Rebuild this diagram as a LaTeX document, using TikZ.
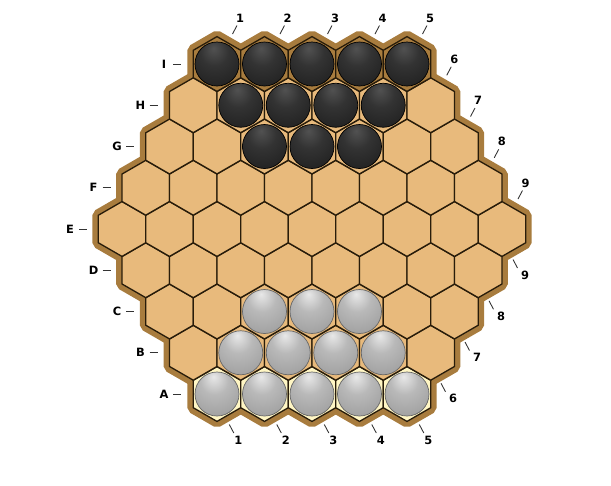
\documentclass[tikz,border=0pt]{standalone}
\usepackage{fontspec}
\setmainfont{DejaVu Sans}

\definecolor{boardtan}{RGB}{232,186,124}
\definecolor{boardrim}{RGB}{168,124,62}
\definecolor{rowAfill}{RGB}{255,246,196}
\definecolor{hexline}{RGB}{40,28,10}

\pgfdeclareradialshading{blackmarble}{\pgfpoint{-4bp}{18bp}}{color(0bp)=(black!68); color(16bp)=(black!80); color(40bp)=(black!88); color(70bp)=(black!93)}
\pgfdeclareradialshading{whitemarble}{\pgfpoint{-4bp}{20bp}}{color(0bp)=(gray!18); color(16bp)=(gray!55); color(38bp)=(gray!76); color(70bp)=(gray!95)}

\newcommand{\hexr}{27.42}
\newcommand{\hexcell}[3]{\filldraw[#1] (#2,#3) +(90:\hexr) -- +(30:\hexr) -- +(-30:\hexr) -- +(-90:\hexr) -- +(-150:\hexr) -- +(150:\hexr) -- cycle;}

\begin{document}
\begin{tikzpicture}[x=0.02cm,y=-0.02cm]

\tikzset{rim/.style={draw=boardrim, fill=boardrim, line width=6.8pt, line join=bevel}}
\tikzset{cell/.style={draw=hexline, line width=0.75pt}}
\tikzset{blackball/.style={shade, shading=blackmarble, draw=black, line width=0.4pt}}
\tikzset{whiteball/.style={shade, shading=whitemarble, draw=black!60, line width=0.4pt}}
\tikzset{coordlabel/.style={font=\fontsize{6.5}{7}\selectfont\bfseries, text=black, inner sep=0pt}}
\tikzset{ticks/.style={draw=black!80, line width=0.5pt}}

\useasboundingbox (0,0) rectangle (611,485);

% board rim
\foreach \r in {1,...,9} {
  \pgfmathtruncatemacro\cmin{max(1,\r-4)}
  \pgfmathtruncatemacro\cmax{min(9,\r+4)}
  \foreach \c in {\cmin,...,\cmax} {
    \pgfmathsetmacro\x{312+(\c-5)*47.5-(\r-5)*23.75}
    \pgfmathsetmacro\y{229-(\r-5)*41.25}
    \hexcell{rim}{\x}{\y}
  }
}

% cells
\foreach \r in {1,...,9} {
  \pgfmathtruncatemacro\cmin{max(1,\r-4)}
  \pgfmathtruncatemacro\cmax{min(9,\r+4)}
  \def\cellcol{boardtan}
  \ifnum\r=1 \def\cellcol{rowAfill}\fi
  \ifnum\r=9 \def\cellcol{boardrim}\fi
  \foreach \c in {\cmin,...,\cmax} {
    \pgfmathsetmacro\x{312+(\c-5)*47.5-(\r-5)*23.75}
    \pgfmathsetmacro\y{229-(\r-5)*41.25}
    \hexcell{cell, fill=\cellcol}{\x}{\y}
  }
}

% marbles
\foreach \r/\cfrom/\cto/\ball in {9/5/9/blackball, 8/5/8/blackball, 7/5/7/blackball, 3/3/5/whiteball, 2/2/5/whiteball, 1/1/5/whiteball} {
  \foreach \c in {\cfrom,...,\cto} {
    \pgfmathsetmacro\x{312+(\c-5)*47.5-(\r-5)*23.75}
    \pgfmathsetmacro\y{229-(\r-5)*41.25}
    \path[\ball] (\x,\y) circle (22);
  }
}

% row letters
\foreach \r/\lab in {1/A, 2/B, 3/C, 4/D, 5/E, 6/F, 7/G, 8/H, 9/I} {
  \pgfmathsetmacro\x{70+abs(\r-5)*23.5}
  \pgfmathsetmacro\y{229-(\r-5)*41.25}
  \node[coordlabel] (row\lab) at (\x,\y) {\lab};
  \draw[ticks] (row\lab.center) ++(9,0) -- ++(8,0);
}

% diagonal numbers, upper edge
\foreach \k in {1,...,9} {
  \ifnum\k<6
    \pgfmathsetmacro\x{240+(\k-1)*47.5}
    \pgfmathsetmacro\y{18}
  \else
    \pgfmathsetmacro\x{430.5+(\k-5)*23.75}
    \pgfmathsetmacro\y{18+(\k-5)*41.25}
  \fi
  \node[coordlabel] (top\k) at (\x,\y) {\k};
  \draw[ticks] (top\k.center) ++(-7.5,16) -- ++(4.5,-8.5);
}

% diagonal numbers, lower edge
\foreach \k in {1,...,9} {
  \ifnum\k<6
    \pgfmathsetmacro\x{238.3+(\k-1)*47.5}
    \pgfmathsetmacro\y{440}
    \pgfmathsetmacro\dx{-9}
  \else
    \pgfmathsetmacro\x{429+(\k-5)*24}
    \pgfmathsetmacro\y{440-(\k-5)*41.25}
    \pgfmathsetmacro\dx{-12}
  \fi
  \node[coordlabel] (bot\k) at (\x,\y) {\k};
  \draw[ticks] (bot\k.center) ++(\dx,-15.5) -- ++(4.5,8.5);
}

\end{tikzpicture}
\end{document}
